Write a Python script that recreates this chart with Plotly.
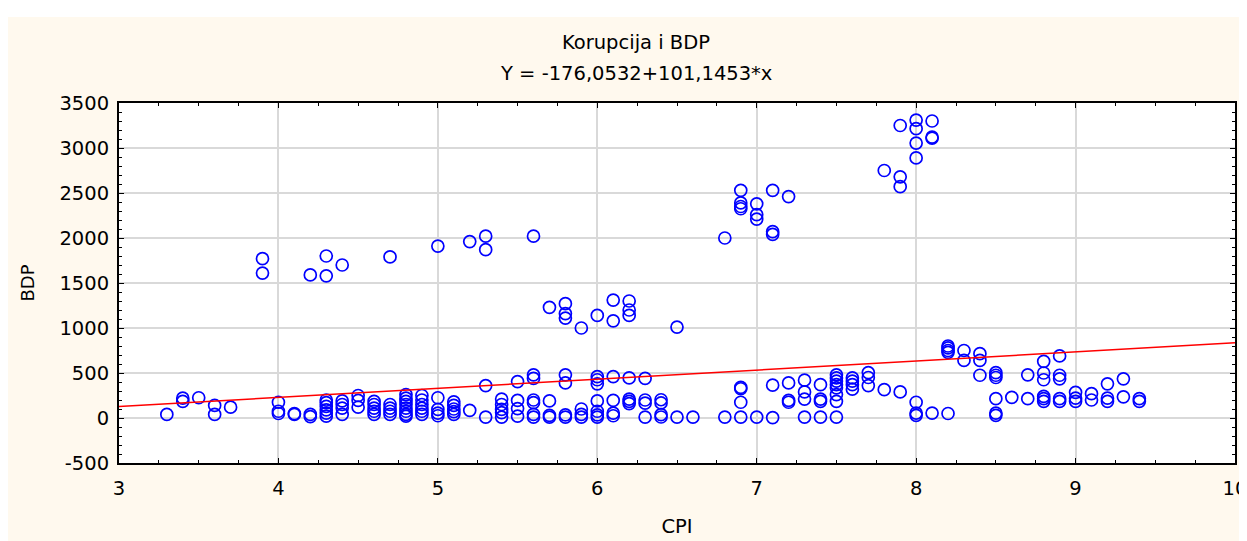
import plotly.graph_objects as go

# ---- data ----
cpi = (
    [3.3] + [3.4]*2 + [3.5] + [3.6]*2 + [3.7] + [3.9]*2 + [4.0]*3 + [4.1]*2 + [4.2]*3
    + [4.3]*8 + [4.4]*5 + [4.5]*3 + [4.6]*5 + [4.7]*5 + [4.8]*8 + [4.9]*6
    + [5.0]*5 + [5.1]*5 + [5.2]*2 + [5.3]*4 + [5.4]*5 + [5.5]*4 + [5.6]*7 + [5.7]*4
    + [5.8]*7 + [5.9]*4 + [6.0]*8 + [6.1]*6 + [6.2]*7 + [6.3]*4 + [6.4]*4 + [6.5]*2
    + [6.6] + [6.8]*2 + [6.9]*8 + [7.0]*4 + [7.1]*5 + [7.2]*4 + [7.3]*4 + [7.4]*4
    + [7.5]*8 + [7.6]*4 + [7.7]*3 + [7.8]*2 + [7.9]*4 + [8.0]*7 + [8.1]*4 + [8.2]*5
    + [8.3]*2 + [8.4]*3 + [8.5]*6 + [8.6] + [8.7]*2 + [8.8]*6 + [8.9]*5 + [9.0]*3
    + [9.1]*2 + [9.2]*3 + [9.3]*2 + [9.4]*2
)
bdp = [
    40, 220, 185, 225, 140, 40, 120, 1770, 1610, 175, 75, 50, 40, 50, 1590, 40, 15,
    1800, 1580, 200, 170, 130, 90, 55, 20,
    1700, 190, 150, 110, 40,
    250, 195, 120,
    185, 150, 110, 75, 40,
    1790, 150, 110, 75, 40,
    260, 220, 185, 150, 110, 75, 40, 20,
    250, 200, 150, 110, 75, 40,
    1910, 225, 95, 55, 25,
    180, 140, 100, 70, 40,
    1960, 85,
    2020, 1870, 360, 10,
    210, 150, 95, 60, 10,
    405, 195, 105, 20,
    2020, 480, 440, 200, 170, 40, 10,
    1230, 190, 30, 10,
    1270, 1160, 1110, 480, 390, 35, 10,
    1000, 100, 40, 10,
    1140, 460, 425, 380, 190, 75, 35, 10,
    1310, 1080, 460, 195, 55, 25,
    1300, 1200, 1140, 445, 210, 185, 160,
    440, 200, 165, 10,
    203, 167, 37, 11,
    1010, 10,
    10,
    2000, 10,
    2530, 2390, 2350, 2325, 340, 325, 175, 10,
    2380, 2260, 2210, 10,
    2530, 2070, 2040, 365, 5,
    2460, 390, 195, 175,
    420, 290, 210, 10,
    370, 210, 185, 10,
    480, 445, 410, 370, 335, 260, 185, 10,
    445, 410, 370, 320,
    505, 450, 360,
    2750, 315,
    3250, 2680, 2570, 290,
    3310, 3215, 3055, 2890, 175, 55, 30,
    3300, 3120, 3110, 55,
    800, 780, 750, 730, 50,
    750, 640,
    715, 640, 475,
    505, 475, 450, 215, 55, 30,
    230,
    480, 215,
    630, 500, 425, 240, 215, 185,
    690, 475, 435, 215, 185,
    285, 220, 185,
    270, 200,
    380, 220, 185,
    435, 235,
    215, 185,
]

intercept = -176.0532
slope = 101.1453
x_range = [3, 10]
y_range = [-500, 3500]
x_ticks = [3, 4, 5, 6, 7, 8, 9, 10]
y_ticks = [-500, 0, 500, 1000, 1500, 2000, 2500, 3000, 3500]

title_main = "Korupcija i BDP"
title_eq = "Y = -176,0532+101,1453*x"
x_label = "CPI"
y_label = "BDP"

# ---- layout geometry (figure pixels; page body adds 8px offset) ----
W, H = 1239, 533
L, R, T, B = 111, 1227, 95, 455
pw, ph = R - L, B - T


def px_x(p):
    return (p - L) / pw


def px_y(p):
    return (B - p) / ph


FONT = "DejaVu Sans, Liberation Sans, Arial, sans-serif"
FS = 19.5
CREAM = "#FFF9EE"

fig = go.Figure()

fig.add_trace(go.Scatter(
    x=cpi, y=bdp, mode="markers",
    marker=dict(symbol="circle-open", size=12, color="#0000FF",
                line=dict(width=1.7, color="#0000FF")),
    showlegend=False, hoverinfo="x+y",
))

line_x = x_range
line_y = [intercept + slope * v for v in line_x]
fig.add_trace(go.Scatter(
    x=line_x, y=line_y, mode="lines",
    line=dict(color="#FF0000", width=1.5),
    showlegend=False, hoverinfo="skip",
))

axis_common = dict(
    showline=True, linecolor="black", linewidth=2, mirror="allticks",
    ticks="inside", ticklen=5, tickwidth=1, tickcolor="black",
    showgrid=True, gridcolor="#D9D9D9", gridwidth=1.5,
    zeroline=False,
    tickfont=dict(family=FONT, size=FS, color="black"),
    ticklabeloverflow="allow",
)

fig.update_xaxes(
    range=x_range, tickvals=x_ticks, ticktext=[str(v) for v in x_ticks],
    minor=dict(dtick=0.25, ticks="inside", ticklen=3, tickcolor="black", showgrid=False),
    ticklabelstandoff=7,
    title=dict(text=x_label, font=dict(family=FONT, size=FS, color="black"), standoff=20),
    **axis_common,
)
fig.update_yaxes(
    range=y_range, tickvals=y_ticks, ticktext=[str(v) for v in y_ticks],
    minor=dict(dtick=100, ticks="inside", ticklen=3, tickcolor="black", showgrid=False),
    ticklabelstandoff=4,
    title=dict(text=y_label, font=dict(family=FONT, size=18, color="black"), standoff=20),
    **axis_common,
)

annotations = [
    dict(text=title_main, xref="paper", yref="paper", x=px_x(628), y=px_y(35),
         xanchor="center", yanchor="middle", showarrow=False,
         font=dict(family=FONT, size=FS, color="black")),
    dict(text=title_eq, xref="paper", yref="paper", x=px_x(628), y=px_y(65),
         xanchor="center", yanchor="middle", showarrow=False,
         font=dict(family=FONT, size=FS, color="black")),
]

shapes = [
    # white strip at the top
    dict(type="rect", xref="paper", yref="paper", x0=px_x(-5), x1=px_x(W + 5),
         y0=px_y(9), y1=px_y(-5), fillcolor="white", line=dict(width=0), layer="below"),
]

fig.update_layout(
    width=W, height=H,
    margin=dict(l=L, r=W - R, t=T, b=H - B, autoexpand=False),
    paper_bgcolor=CREAM, plot_bgcolor="white",
    font=dict(family=FONT, size=FS, color="black"),
    annotations=annotations, shapes=shapes,
    showlegend=False,
)

fig.write_html("out.html")
